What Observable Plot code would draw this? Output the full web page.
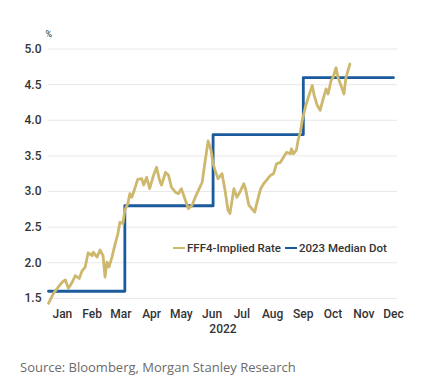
<!DOCTYPE html>
<html>
<head>
<meta charset="utf-8">
<script src="https://cdn.jsdelivr.net/npm/d3@7"></script>
<script src="https://cdn.jsdelivr.net/npm/@observablehq/plot@0.6"></script>
<style>
  html, body { margin: 0; padding: 0; background: #fff; }
  #wrap { position: relative; width: 421px; height: 386px; font-family: Roboto, sans-serif; }
  #legend { position: absolute; left: 173px; top: 241px; font: 500 11.5px Roboto, sans-serif; color: #333; white-space: nowrap; display: flex; align-items: center; }
  #legend .sw { display: inline-block; width: 12px; height: 2.5px; margin-right: 2px; }
  #caption { position: absolute; left: 20px; top: 358px; font: 13px "Open Sans", sans-serif; color: #6b6b6b; white-space: nowrap; }
</style>
</head>
<body>
<div id="wrap">
  <div id="chart"></div>
  <div id="legend"></div>
  <div id="caption"></div>
</div>
<script>
const seriesNames = ["FFF4-Implied Rate", "2023 Median Dot"];
const seriesColors = ["#CDB86E", "#1B5A9C"];

const impliedDates = [
  "2022-01-01","2022-01-06","2022-01-11","2022-01-15","2022-01-18","2022-01-21","2022-01-25","2022-01-28",
  "2022-02-01","2022-02-04","2022-02-07","2022-02-10","2022-02-14","2022-02-15","2022-02-19","2022-02-22","2022-02-25","2022-02-27",
  "2022-03-01","2022-03-03","2022-03-06","2022-03-09","2022-03-12","2022-03-14","2022-03-17","2022-03-19","2022-03-22","2022-03-24","2022-03-26","2022-03-29",
  "2022-04-01","2022-04-05","2022-04-07","2022-04-10","2022-04-13","2022-04-17","2022-04-20","2022-04-23","2022-04-25","2022-04-29",
  "2022-05-02","2022-05-05","2022-05-09","2022-05-12","2022-05-15","2022-05-19","2022-05-22","2022-05-26","2022-05-29",
  "2022-06-01","2022-06-05","2022-06-08","2022-06-11","2022-06-14","2022-06-16","2022-06-18","2022-06-21","2022-06-25","2022-06-28",
  "2022-07-01","2022-07-03","2022-07-07","2022-07-10","2022-07-13","2022-07-17","2022-07-19","2022-07-22","2022-07-25","2022-07-28","2022-07-30",
  "2022-08-03","2022-08-06","2022-08-09","2022-08-13","2022-08-16","2022-08-19","2022-08-23","2022-08-26","2022-08-29",
  "2022-09-02","2022-09-03","2022-09-05","2022-09-08","2022-09-10","2022-09-12","2022-09-14","2022-09-17","2022-09-20","2022-09-24","2022-09-26","2022-09-29",
  "2022-10-02","2022-10-05","2022-10-08","2022-10-10","2022-10-13","2022-10-15","2022-10-18","2022-10-20","2022-10-23","2022-10-26","2022-10-28","2022-11-01"
];
const impliedValues = [
  1.43,1.57,1.66,1.73,1.76,1.64,1.73,1.82,
  1.78,1.89,1.94,2.14,2.10,2.15,2.08,2.18,2.10,1.80,
  2.01,1.94,2.08,2.25,2.41,2.57,2.55,2.74,2.83,2.97,2.92,3.04,
  3.17,3.18,3.09,3.20,3.04,3.23,3.34,3.16,3.09,3.27,
  3.23,3.06,2.99,2.97,3.04,2.88,2.76,2.81,2.92,
  3.01,3.13,3.43,3.71,3.58,3.39,3.30,3.18,3.25,3.02,
  2.74,2.69,3.04,2.92,2.99,3.11,3.02,2.81,2.76,2.71,2.83,
  3.04,3.11,3.16,3.23,3.25,3.39,3.41,3.48,3.55,
  3.53,3.60,3.53,3.58,3.74,3.83,4.00,4.18,4.32,4.49,4.35,4.21,
  4.14,4.30,4.44,4.37,4.56,4.60,4.74,4.60,4.49,4.37,4.60,4.79
];

const dotDates = ["2022-01-01","2022-03-19","2022-06-16","2022-09-15","2022-12-15"];
const dotValues = [1.6, 2.8, 3.8, 4.6, 4.6];

const monthTickDates = ["2022-01-15","2022-02-14","2022-03-15","2022-04-15","2022-05-15","2022-06-15","2022-07-15","2022-08-15","2022-09-15","2022-10-15","2022-11-15","2022-12-15"];
const monthTickLabels = ["Jan","Feb","Mar","Apr","May","Jun","Jul","Aug","Sep","Oct","Nov","Dec"];
const yTicks = [1.5, 2.0, 2.5, 3.0, 3.5, 4.0, 4.5, 5.0];
const yearLabel = "2022";
const yearLabelDate = "2022-06-26";
const unitLabel = "%";
const caption = "Source: Bloomberg, Morgan Stanley Research";

const parse = d3.utcParse("%Y-%m-%d");
const implied = impliedDates.map((d, i) => ({date: parse(d), value: impliedValues[i]}));
const dots = dotDates.map((d, i) => ({date: parse(d), value: dotValues[i]}));
const tickDates = monthTickDates.map(parse);
const labelOf = new Map(tickDates.map((d, i) => [+d, monthTickLabels[i]]));

const chart = Plot.plot({
  width: 421,
  height: 345,
  marginTop: 45,
  marginBottom: 40,
  marginLeft: 48,
  marginRight: 24,
  style: {fontFamily: "Roboto, sans-serif", fontSize: "12px", color: "#333", background: "#fff"},
  x: {type: "utc", domain: [parse("2022-01-01"), parse("2022-12-19")], ticks: tickDates,
      tickFormat: d => labelOf.get(+d), tickSize: 0, tickPadding: 4, label: null},
  y: {domain: [1.4, 5.05], ticks: yTicks, tickFormat: d3.format(".1f"), tickSize: 0, tickPadding: 7, label: null},
  marks: [
    Plot.gridY(yTicks, {stroke: "#e9e9e9", strokeOpacity: 1, strokeWidth: 1}),
    Plot.axisY({ticks: yTicks, tickFormat: d3.format(".1f"), tickSize: 0, tickPadding: 7, fontWeight: 500, label: null}),
    Plot.axisX({ticks: tickDates, tickFormat: d => labelOf.get(+d), tickSize: 0, tickPadding: 4, fontWeight: 500, label: null}),
    Plot.line(dots, {x: "date", y: "value", curve: "step-after", stroke: seriesColors[1], strokeWidth: 2.8}),
    Plot.line(implied, {x: "date", y: "value", stroke: seriesColors[0], strokeWidth: 2.8, strokeLinejoin: "round"}),
    Plot.text([yearLabel], {x: () => parse(yearLabelDate), frameAnchor: "bottom", dy: 27, text: d => d, fontWeight: 500, fontSize: 12, fill: "#333"}),
    Plot.text([unitLabel], {frameAnchor: "top-left", dx: -3, dy: -15, text: d => d, fontSize: 9, fill: "#333"})
  ]
});
document.getElementById("chart").appendChild(chart);

const legend = document.getElementById("legend");
seriesNames.forEach((name, i) => {
  const sw = document.createElement("span");
  sw.className = "sw";
  sw.style.background = seriesColors[i];
  const t = document.createElement("span");
  t.textContent = name;
  t.style.marginRight = i === 0 ? "4px" : "0";
  legend.appendChild(sw);
  legend.appendChild(t);
});
document.getElementById("caption").textContent = caption;
</script>
</body>
</html>
